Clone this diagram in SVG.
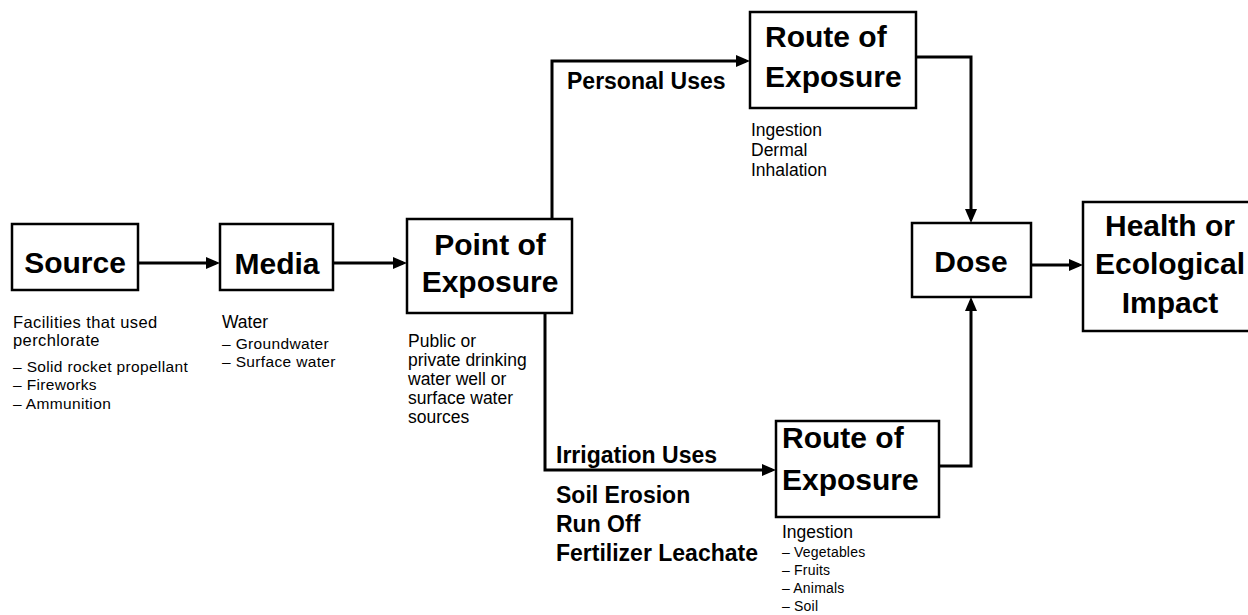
<svg xmlns="http://www.w3.org/2000/svg" width="1248" height="615" viewBox="0 0 1248 615">
  <style>
    .box { fill: #ffffff; stroke: #000000; stroke-width: 2.5; }
    .title { font-family: "Liberation Sans", Arial, sans-serif; font-weight: bold; font-size: 30px; fill: #000000; }
    .label { font-family: "Liberation Sans", Arial, sans-serif; font-weight: bold; font-size: 23px; fill: #000000; }
    .desc { font-family: "Liberation Sans", Arial, sans-serif; font-size: 17.5px; fill: #000000; }
    .desc-tight { font-family: "Liberation Sans", Arial, sans-serif; font-size: 16.5px; letter-spacing: 0.4px; fill: #000000; }
    .sub { font-family: "Liberation Sans", Arial, sans-serif; font-size: 15.5px; letter-spacing: 0.35px; fill: #000000; }
    .sub-small { font-family: "Liberation Sans", Arial, sans-serif; font-size: 14px; letter-spacing: 0.2px; fill: #000000; }
    .wire { fill: none; stroke: #000000; stroke-width: 3; }
  </style>
  <defs>
    <marker id="arrow" markerUnits="userSpaceOnUse" viewBox="0 0 14 12" markerWidth="14" markerHeight="12" refX="10" refY="6" orient="auto">
      <path d="M0,0 L14,6 L0,12 z" fill="#000000"/>
    </marker>
  </defs>

  <rect width="1248" height="615" fill="#ffffff"/>

  <!-- connectors and their labels -->
  <g id="connectors">
    <path class="wire" d="M138,263 H216" marker-end="url(#arrow)"/>
    <path class="wire" d="M333,263 H403" marker-end="url(#arrow)"/>
    <path class="wire" d="M552,219 V61 H746" marker-end="url(#arrow)"/>
    <path class="wire" d="M545,313 V470 H772" marker-end="url(#arrow)"/>
    <path class="wire" d="M916,57 H971 V219" marker-end="url(#arrow)"/>
    <path class="wire" d="M939,466 H971 V301" marker-end="url(#arrow)"/>
    <path class="wire" d="M1031,265 H1079" marker-end="url(#arrow)"/>
    <text class="label" x="567" y="89">Personal Uses</text>
    <text class="label" x="556" y="463">Irrigation Uses</text>
    <text class="label" x="556" y="503">Soil Erosion</text>
    <text class="label" x="556" y="532">Run Off</text>
    <text class="label" x="556" y="561">Fertilizer Leachate</text>
  </g>

  <g id="source">
    <rect class="box" x="12" y="224" width="126" height="66"/>
    <text class="title" x="75" y="273" text-anchor="middle">Source</text>
    <text class="desc-tight" x="13" y="328">Facilities that used</text>
    <text class="desc-tight" x="13" y="346">perchlorate</text>
    <text class="sub" x="13" y="372">– Solid rocket propellant</text>
    <text class="sub" x="13" y="390">– Fireworks</text>
    <text class="sub" x="13" y="409">– Ammunition</text>
  </g>

  <g id="media">
    <rect class="box" x="220" y="224" width="113" height="66"/>
    <text class="title" x="277" y="274" text-anchor="middle">Media</text>
    <text class="desc" x="222" y="328">Water</text>
    <text class="sub" x="222" y="349">– Groundwater</text>
    <text class="sub" x="222" y="367">– Surface water</text>
  </g>

  <g id="point-of-exposure">
    <rect class="box" x="407" y="219" width="165" height="94"/>
    <text class="title" x="490" y="255" text-anchor="middle">Point of</text>
    <text class="title" x="490" y="292" text-anchor="middle">Exposure</text>
    <text class="desc" x="408" y="347">Public or</text>
    <text class="desc" x="408" y="366">private drinking</text>
    <text class="desc" x="408" y="385">water well or</text>
    <text class="desc" x="408" y="404">surface water</text>
    <text class="desc" x="408" y="423">sources</text>
  </g>

  <g id="route-personal">
    <rect class="box" x="750" y="12" width="166" height="96"/>
    <text class="title" x="765" y="47">Route of</text>
    <text class="title" x="765" y="87">Exposure</text>
    <text class="desc" x="751" y="136">Ingestion</text>
    <text class="desc" x="751" y="156">Dermal</text>
    <text class="desc" x="751" y="176">Inhalation</text>
  </g>

  <g id="route-irrigation">
    <rect class="box" x="776" y="421" width="163" height="96"/>
    <text class="title" x="782" y="448">Route of</text>
    <text class="title" x="782" y="490">Exposure</text>
    <text class="desc" x="782" y="538">Ingestion</text>
    <text class="sub-small" x="782" y="557">– Vegetables</text>
    <text class="sub-small" x="782" y="575">– Fruits</text>
    <text class="sub-small" x="782" y="593">– Animals</text>
    <text class="sub-small" x="782" y="611">– Soil</text>
  </g>

  <g id="dose">
    <rect class="box" x="912" y="223" width="119" height="74"/>
    <text class="title" x="971" y="272" text-anchor="middle">Dose</text>
  </g>

  <g id="impact">
    <rect class="box" x="1083" y="202" width="180" height="129"/>
    <text class="title" x="1170" y="236" text-anchor="middle">Health or</text>
    <text class="title" x="1170" y="274" text-anchor="middle">Ecological</text>
    <text class="title" x="1170" y="313" text-anchor="middle">Impact</text>
  </g>
</svg>
